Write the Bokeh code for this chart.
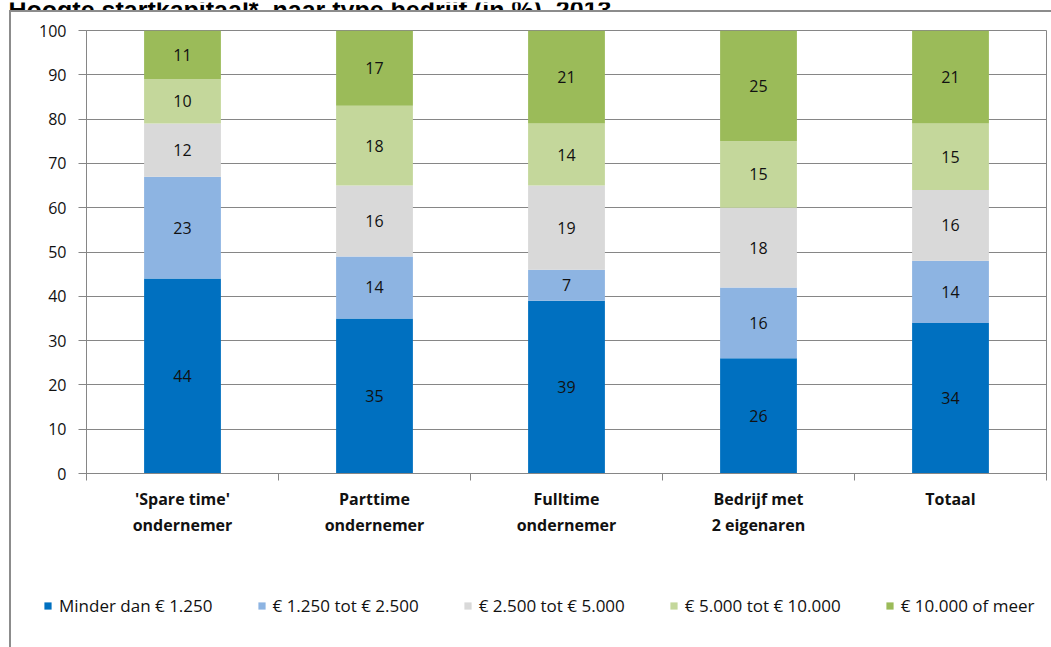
from bokeh.plotting import figure
from bokeh.layouts import column, row
from bokeh.models import (ColumnDataSource, Range1d, FixedTicker, Legend,
                          LegendItem, InlineStyleSheet, Label)
from bokeh.core.properties import value
from bokeh.embed import file_html
from bokeh.resources import INLINE

# Startkapitaal per type bedrijf (in %)
categories = ["'Spare time'\nondernemer", "Parttime\nondernemer",
              "Fulltime\nondernemer", "Bedrijf met\n2 eigenaren", "Totaal"]
minder_1250 = [44, 35, 39, 26, 34]
van_1250_2500 = [23, 14, 7, 16, 14]
van_2500_5000 = [12, 16, 19, 18, 16]
van_5000_10000 = [10, 18, 14, 15, 15]
meer_10000 = [11, 17, 21, 25, 21]

series_names = ["Minder dan € 1.250", "€ 1.250 tot € 2.500",
                "€ 2.500 tot € 5.000", "€ 5.000 tot € 10.000",
                "€ 10.000 of meer"]
colors = ["#0070C0", "#8DB4E2", "#D9D9D9", "#C4D79B", "#9BBB59"]
y_ticks = [0, 10, 20, 30, 40, 50, 60, 70, 80, 90, 100]
title_text = "Hoogte startkapitaal*, naar type bedrijf (in %), 2013"

series = [minder_1250, van_1250_2500, van_2500_5000, van_5000_10000, meer_10000]
keys = ["s0", "s1", "s2", "s3", "s4"]

centers = [i + 0.5 for i in range(len(categories))]
bounds = [float(i) for i in range(len(categories) + 1)]

data = {"x": centers}
for k, s in zip(keys, series):
    data[k] = s
source = ColumnDataSource(data)

FONT = "Open Sans"
GRID = "#868686"
INK = "#111111"
W = 1051


def strip(height, x_range):
    """A bare figure whose frame fills its whole canvas."""
    f = figure(width=W, height=height, output_backend="svg",
               toolbar_location=None, x_range=x_range,
               y_range=Range1d(0, 1), x_axis_location=None,
               y_axis_location=None, min_border=0)
    f.outline_line_color = None
    f.grid.grid_line_color = None
    f.background_fill_color = "white"
    f.border_fill_color = "white"
    return f


# heading strip: only the foot of the heading fits above the chart box
head = strip(10, Range1d(0, 1))
head.add_layout(Label(x=8, y=3, x_units="screen", y_units="screen",
                      text=title_text, text_font="Liberation Sans",
                      text_font_style="bold", text_font_size="25px",
                      text_baseline="alphabetic", text_color="#000000"))

# main chart
p = figure(width=W, height=570, output_backend="svg", toolbar_location=None,
           x_range=Range1d(0, len(categories)), y_range=Range1d(0, 100),
           min_border_left=86, min_border_right=5, min_border_top=20,
           min_border_bottom=107)
p.background_fill_color = "white"
p.border_fill_color = "white"
p.outline_line_color = GRID
p.outline_line_width = 1

p.vbar_stack(keys, x="x", width=0.4, color=colors, line_color=None,
             source=source)

# value labels in the middle of every segment
lx, ly, lt = [], [], []
for j, xc in enumerate(centers):
    base = 0
    for s in series:
        v = s[j]
        lx.append(xc)
        ly.append(base + v / 2)
        lt.append(str(v))
        base += v
p.text(x=lx, y=ly, text=lt, text_align="center", text_baseline="middle",
       text_font_size="16px", text_color=INK, text_font=value(FONT))

# y axis
p.yaxis.ticker = FixedTicker(ticks=y_ticks)
p.yaxis.axis_line_color = GRID
p.yaxis.major_tick_line_color = GRID
p.yaxis.major_tick_out = 8
p.yaxis.major_tick_in = 0
p.yaxis.minor_tick_line_color = None
p.yaxis.major_label_text_font = FONT
p.yaxis.major_label_text_font_size = "16px"
p.yaxis.major_label_text_color = INK
p.yaxis.major_label_standoff = 12

# x axis: labels at the bar centres, tick marks between the categories
p.xaxis.ticker = FixedTicker(ticks=centers, minor_ticks=bounds)
p.xaxis.major_label_overrides = {c: lab for c, lab in zip(centers, categories)}
p.xaxis.axis_line_color = GRID
p.xaxis.major_tick_line_color = None
p.xaxis.minor_tick_line_color = GRID
p.xaxis.minor_tick_out = 7
p.xaxis.minor_tick_in = 0
p.xaxis.major_label_text_font = FONT
p.xaxis.major_label_text_font_style = "bold"
p.xaxis.major_label_text_font_size = "16px"
p.xaxis.major_label_text_color = INK
p.xaxis.major_label_text_line_height = 1.2
p.xaxis.major_label_standoff = 7

p.xgrid.grid_line_color = None
p.ygrid.grid_line_color = GRID

# legend strip; its swatch renderers sit outside the visible x range
leg = strip(67, Range1d(-3, -2))
swatches = [leg.vbar(x="x", top=k, width=0.4, color=c, line_color=None,
                     source=source)
            for k, c in zip(keys, colors)]
legend = Legend(items=[LegendItem(label=n, renderers=[r])
                       for n, r in zip(series_names, swatches)],
                orientation="horizontal", location=(43, 30),
                border_line_color=None, background_fill_alpha=0,
                glyph_width=9, glyph_height=9, label_standoff=7, spacing=44,
                padding=0, margin=0, label_text_font=FONT,
                label_text_font_size="17px", label_text_color=INK)
leg.add_layout(legend)

# grey box line around the chart area (left and top edges are visible)
box_css = InlineStyleSheet(css="""
:host { position: relative; }
:host::after {
  content: "";
  position: absolute;
  left: 9px; top: 10px; right: 0; bottom: 0;
  border-left: 2px solid #8C8C8C;
  border-top: 2px solid #8C8C8C;
  pointer-events: none;
}
""")

page = column(row(head), p, row(leg), spacing=0)
page.stylesheets = [box_css]

open("out.html", "w").write(file_html(page, INLINE))
